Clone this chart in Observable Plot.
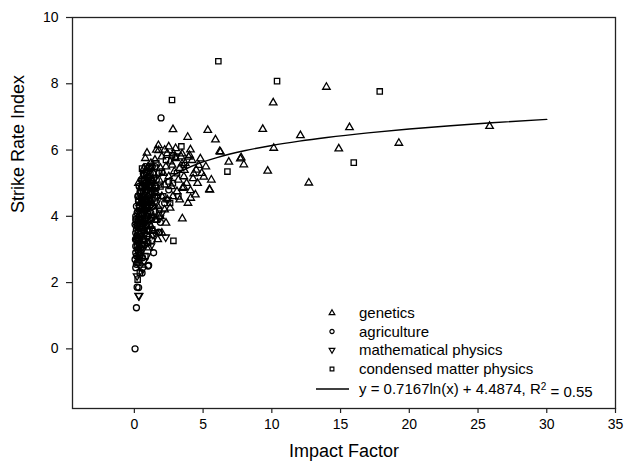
<!DOCTYPE html>
<html>
<head>
<meta charset="utf-8">
<script src="https://cdn.jsdelivr.net/npm/d3@7"></script>
<script src="https://cdn.jsdelivr.net/npm/@observablehq/plot@0.6"></script>
<style>
  html, body { margin: 0; padding: 0; background: #fff; }
  #wrap { position: relative; width: 625px; height: 470px; font-family: "Liberation Sans", Arial, sans-serif; }
  #legend { position: absolute; left: 0; top: 0; pointer-events: none; }
</style>
</head>
<body>
<div id="wrap"></div>
<script>
// ---- data (Impact Factor, Strike Rate Index) ----
const genetics = [
  [13.97,7.90],[12.08,6.44],[15.65,6.68],[14.87,6.04],[19.24,6.21],[12.69,5.01],[25.84,6.72],
  [10.1,7.43],[2.81,6.62],[3.88,6.39],[5.34,6.6],[5.9,6.31],[9.34,6.63],[10.14,6.06],[6.21,5.96],
  [6.87,5.64],[7.77,5.77],[7.96,5.56],[9.7,5.37],[5.46,4.81],[4.44,4.65],[5.05,5.19],[3.49,3.93],
  [0.92,5.91],[1.75,6.14],[4.08,6.01],[4.8,5.74],[4.02,5.84],[4.2,5.69],[4.68,5.54],[4.32,5.29],
  [4.27,5.14],[5.49,4.8],[4.08,4.78],[3.59,4.88],[3.47,5.59],[3.64,5.39],[1.77,5.99],[2.86,5.89],
  [3.95,5.79],[3.47,5.89],[6.26,5.94],[7.71,5.74],
  [1.2,5.6],[1.5,5.7],[2.0,5.8],[2.3,5.5],[2.6,5.65],[3.0,5.75],[3.3,5.45],[2.1,5.3],[2.5,5.2],
  [2.9,5.35],[3.2,5.1],[3.6,5.2],[1.8,5.1],[2.2,4.95],[2.7,4.9],[3.1,4.75],[3.5,4.85],[3.8,5.0],
  [1.6,4.7],[2.0,4.6],[2.4,4.5],[2.8,4.6],[3.3,4.5],[1.3,4.4],[1.7,4.3],[2.2,4.2],[2.6,4.25],
  [1.1,4.9],[1.4,5.3],[1.0,5.5],[0.8,5.75],[1.9,5.45],[2.4,5.9],[3.4,5.8],[4.5,5.4],[4.9,5.3],
  [5.6,5.1],[4.1,4.55],[3.9,4.4],[1.5,3.9],[1.9,4.0],[2.3,3.8],[1.2,3.7],[1.0,4.1],[0.7,4.6],
  [0.6,5.2],[0.5,4.9],[1.6,6.0],[2.5,6.1],[3.0,6.05],[1.4,3.55],[2.0,3.5],[1.7,3.3],[0.9,3.45],
  [2.2,6.0],[0.4,4.4],[0.3,5.0],[0.7,5.45],[1.25,5.1],[2.75,5.55],[3.7,5.6],[4.6,5.0],[5.2,5.5],
  [1.05,3.05],[0.55,3.75],[0.85,4.3]
];
const agriculture = [
  [0.05,0.0],[0.15,1.24],[0.31,1.85],[0.2,1.86],[0.56,2.29],[1.0,2.5],[1.82,3.51],[1.94,6.97],
  [1.29,3.27],[1.77,3.52],[1.04,2.52],[1.89,3.82],
  [0.1,2.45],[0.2,2.6],[0.35,2.7],[0.15,2.8],[0.45,2.9],[0.25,3.0],[0.6,2.75],
  [0.1,3.1],[0.3,3.2],[0.5,3.15],[0.2,3.35],[0.7,3.3],[0.4,3.45],[0.9,3.4],[0.15,3.6],
  [0.3,3.55],[0.55,3.65],[0.8,3.7],[0.2,3.8],[0.45,3.9],[0.65,3.85],[1.1,3.75],[0.35,4.0],[1.3,3.95],
  [0.5,4.05],[0.25,4.15],[0.75,4.2],[0.4,4.3],[0.95,4.25],[0.6,4.4],[1.2,4.35],[0.3,4.45],[1.5,4.15],[0.85,4.5],
  [0.5,4.55],[0.7,4.65],[1.0,4.6],[0.45,4.75],[0.9,4.8],[1.3,4.7],[0.6,4.9],[1.1,4.95],[1.6,4.85],[0.8,5.0],
  [0.7,5.1],[1.0,5.2],[1.4,5.15],[0.9,5.35],[1.2,5.45],[1.8,5.3],[1.5,5.5],
  [0.1,3.5],[0.3,3.5],[0.5,3.5],[0.75,3.5],
  [0.2,3.7],[0.4,3.7],[0.6,3.7],[0.9,3.7],
  [0.1,3.9],[0.3,3.9],[0.55,3.9],[0.8,3.9],[1.0,3.9],
  [0.2,4.1],[0.45,4.1],[0.7,4.1],[0.95,4.1],[1.2,4.1],
  [0.15,4.3],[0.35,4.3],[0.6,4.3],[0.85,4.3],[1.1,4.3],[1.35,4.3],
  [0.3,4.5],[0.55,4.5],[0.8,4.5],[1.05,4.5],[1.3,4.5],
  [0.4,4.7],[0.65,4.7],[0.9,4.7],[1.15,4.7],[1.45,4.7],
  [0.35,4.9],[0.55,4.9],[0.8,4.9],[1.05,4.9],[1.3,4.9],[1.55,4.9],
  [0.5,5.1],[0.75,5.1],[1.0,5.1],[1.25,5.1],[1.6,5.1],
  [0.65,5.3],[0.85,5.3],[1.15,5.3],[1.35,5.3],
  [0.8,5.5],[1.1,5.5],[1.3,5.5],
  [0.15,3.3],[0.4,3.3],[0.6,3.3],
  [0.2,3.1],[0.35,3.1],[0.55,3.1],
  [0.1,2.9],[0.3,2.9],[0.05,2.7],[0.08,3.3],[0.05,3.75],[0.1,4.0],[1.4,2.9],[2.2,4.4],[2.5,4.8],
  [0.25,3.25],[0.45,3.4],[0.65,3.6],[0.35,3.8],[0.5,4.2],[0.7,4.35],[0.25,4.6],[0.95,4.45],
  [0.6,5.0],[1.15,5.2],[0.45,3.05],[0.15,2.55],[0.4,2.8],[0.75,3.15],[1.0,4.0]
];
const mathPhysics = [
  [0.34,1.6],[0.31,1.61],[2.28,3.37],[0.2,2.2],[0.4,2.5],[0.6,3.0],[0.3,2.9],[0.8,3.25],[0.5,3.5],
  [1.0,3.6],[0.7,3.8],[1.2,3.9],[0.4,4.1],[0.9,4.2],[1.4,4.0],[0.6,4.45],[1.1,4.5],[1.6,4.4],
  [0.5,4.7],[0.8,4.9],[1.3,4.8],[1.0,5.1],[1.7,4.6],[0.3,3.3],[0.2,3.7],[1.5,3.5],[2.0,4.1],
  [0.9,2.8],[0.6,2.4],[1.2,3.1],[0.25,2.75],[0.7,2.65],[1.35,3.45],[1.85,3.95],[2.4,4.5]
];
const condensedMatter = [
  [6.11,8.68],[10.38,8.08],[17.85,7.77],[15.96,5.62],[6.77,5.35],[2.74,7.51],[2.84,3.26],
  [0.56,5.44],[3.42,6.11],[2.74,5.84],[0.24,2.09],
  [0.3,2.6],[0.5,3.0],[0.2,3.4],[0.7,3.55],[1.3,3.6],[0.4,3.9],[0.9,4.0],[0.6,4.3],[1.1,4.45],
  [0.3,4.6],[1.5,4.6],[0.8,4.75],[1.9,4.9],[1.2,5.0],[2.5,5.05],[0.7,5.25],[2.0,5.35],[3.1,5.3],
  [1.6,5.6],[2.3,5.7],[3.6,5.55],[2.8,5.0],[3.2,4.6],[1.0,3.2],[0.4,2.3],[1.8,4.2],[2.6,4.4],
  [0.15,3.9],[1.4,5.15],[2.1,4.6],[3.0,5.8],[0.8,2.8],[1.6,3.9]
];
// regression shown on the chart: y = a ln(x) + b
const fitA = 0.7167, fitB = 4.4874;
const fitX = [0.7, 1, 1.5, 2, 3, 4, 5, 6, 8, 10, 12, 14, 17, 20, 23, 26, 30];
const fitLine = fitX.map(x => ({x, y: fitA * Math.log(x) + fitB}));

const xTicks = [0, 5, 10, 15, 20, 25, 30, 35];
const yTicks = [0, 2, 4, 6, 8, 10];

const seriesNames = ["genetics", "agriculture", "mathematical physics", "condensed matter physics"];
const fitLabel = "y = 0.7167ln(x) + 4.4874, R";

// ---- chart ----
const font = "'Liberation Sans', Arial, sans-serif";
const dotStyle = {x: d => d[0], y: d => d[1], stroke: "#000", strokeWidth: 1.3, fill: "none"};

const chart = Plot.plot({
  width: 625,
  height: 470,
  marginLeft: 72,
  marginRight: 10,
  marginTop: 17,
  marginBottom: 62,
  style: {fontFamily: font, color: "#000", background: "#fff", overflow: "visible"},
  x: {domain: [-4.5, 35]},
  y: {domain: [-1.8, 10]},
  marks: [
    Plot.dot(agriculture, {...dotStyle, symbol: "circle", r: 3}),
    Plot.dot(mathPhysics, {...dotStyle, symbol: "triangle", r: 2.8, rotate: 180}),
    Plot.dot(condensedMatter, {...dotStyle, symbol: "square", r: 3}),
    Plot.dot(genetics, {...dotStyle, symbol: "triangle", r: 2.8}),
    Plot.line(fitLine, {x: "x", y: "y", stroke: "#000", strokeWidth: 1.4, curve: "monotone-x"}),
    Plot.frame({stroke: "#222", strokeWidth: 1.3}),
    Plot.axisX({ticks: xTicks, tickSize: 5, tickPadding: 6, fontSize: 14, label: null, stroke: "#222", strokeWidth: 1.2}),
    Plot.axisY({ticks: yTicks, tickSize: 6, tickPadding: 8, fontSize: 14, label: null, stroke: "#222", strokeWidth: 1.2}),
    Plot.text(["Impact Factor"], {frameAnchor: "bottom", dy: 48, fontSize: 18}),
    Plot.text(["Strike Rate Index"], {frameAnchor: "left", dx: -54, rotate: -90, fontSize: 18})
  ]
});
const wrap = document.getElementById("wrap");
wrap.appendChild(chart);

// ---- legend (overlay, inside plot area bottom-right) ----
const svg = d3.select(wrap).append("svg")
  .attr("id", "legend").attr("width", 625).attr("height", 470)
  .style("font-family", font).style("font-size", "15px");
const symX = 332, textX = 359, rowY = [313, 331.5, 350, 369, 389];
const legendSymbols = [
  {type: d3.symbolTriangle, rot: 0},
  {type: d3.symbolCircle, rot: 0},
  {type: d3.symbolTriangle, rot: 180},
  {type: d3.symbolSquare, rot: 0}
];
seriesNames.forEach((name, i) => {
  svg.append("path")
    .attr("d", d3.symbol(legendSymbols[i].type, 14)())
    .attr("transform", `translate(${symX},${rowY[i]}) rotate(${legendSymbols[i].rot})`)
    .attr("fill", "none").attr("stroke", "#000").attr("stroke-width", 1.2);
  svg.append("text").attr("x", textX).attr("y", rowY[i]).attr("dy", "0.35em").text(name);
});
svg.append("line").attr("x1", 316).attr("x2", 349).attr("y1", rowY[4]).attr("y2", rowY[4])
  .attr("stroke", "#000").attr("stroke-width", 1.3);
const eq = svg.append("text").attr("x", textX).attr("y", rowY[4]).attr("dy", "0.35em");
eq.append("tspan").text(fitLabel);
eq.append("tspan").attr("dy", "-0.45em").attr("font-size", "10px").text("2");
eq.append("tspan").attr("dy", "0.45em").text(" = 0.55");
</script>
</body>
</html>
